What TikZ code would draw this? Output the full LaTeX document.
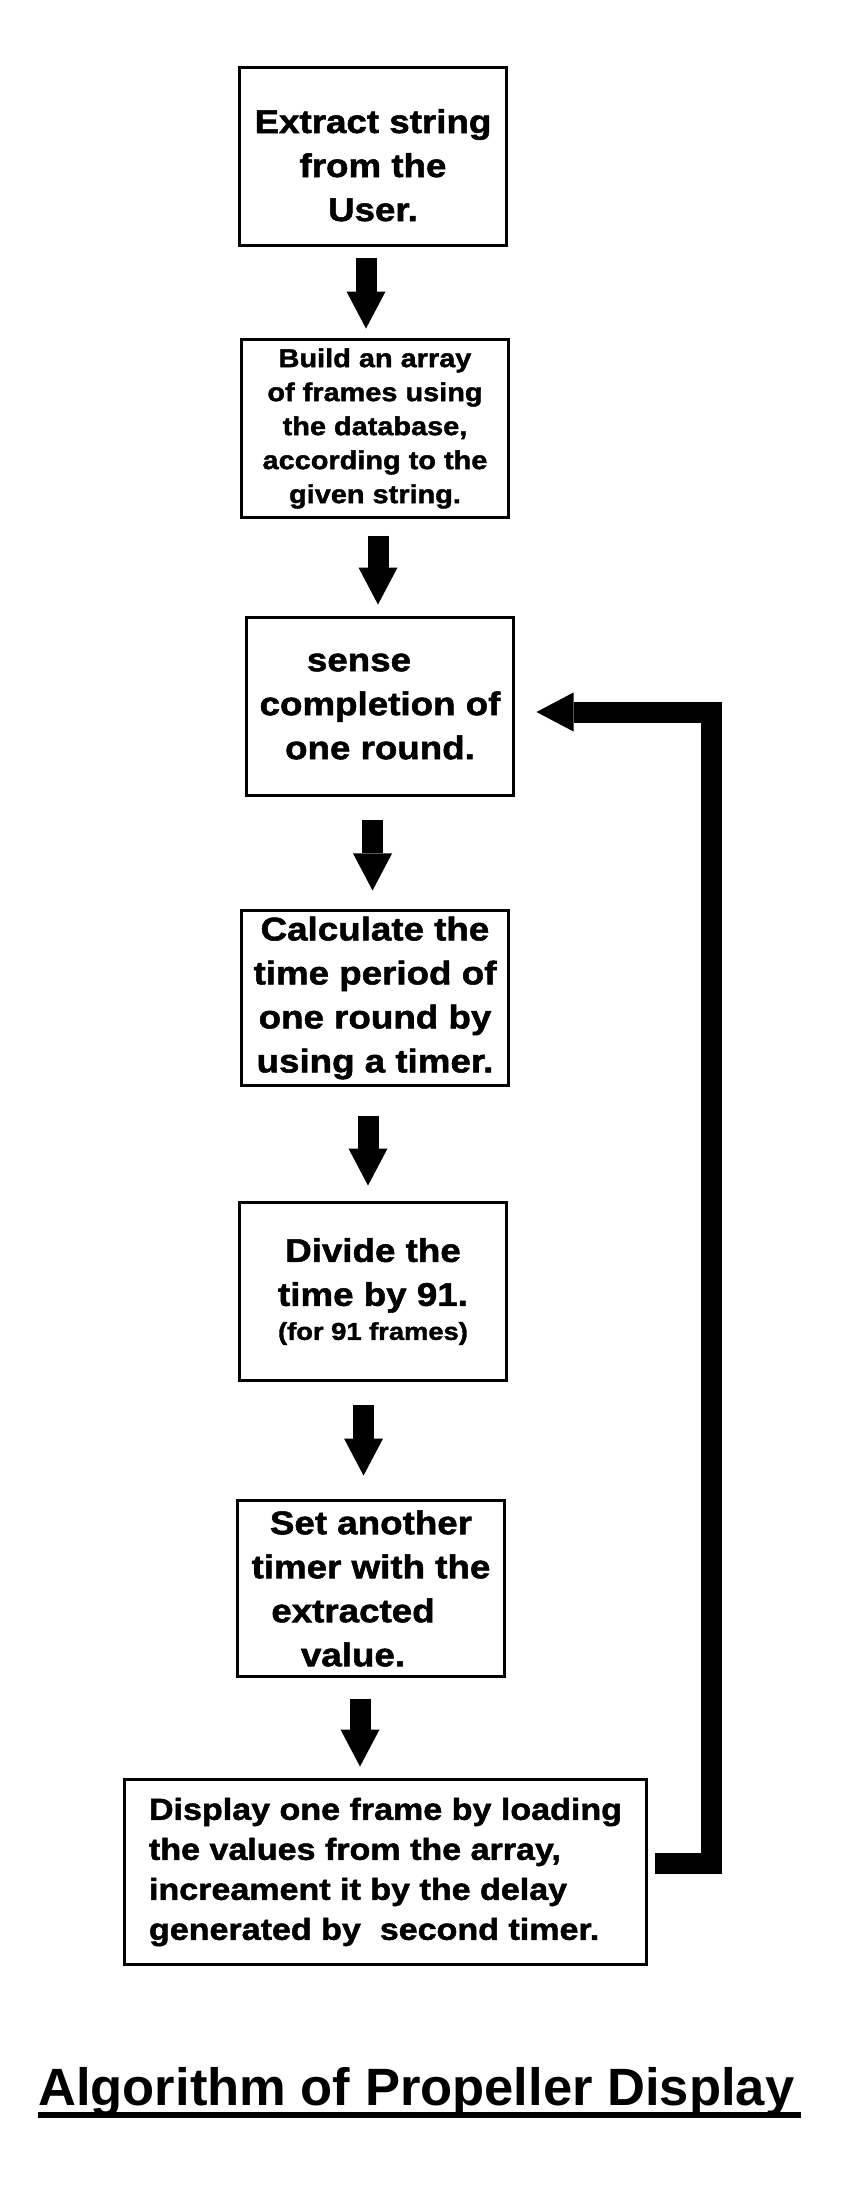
\documentclass[tikz,border=0pt]{standalone}
\usepackage{fontspec}
\newfontfamily\boxfont[FakeStretch=1.12, FakeBold=1.6]{Liberation Sans}
\newfontfamily\titlefont{Liberation Sans}
\usetikzlibrary{arrows.meta, calc}

\tikzset{
  stepbox/.style={draw, line width=2.25pt, inner sep=0pt, align=center,
    minimum width=200.25pt, minimum height=133.5pt,
    font=\boxfont\bfseries\fontsize{24.6}{33}\selectfont},
  flowarrow/.style={line width=15.75pt, line join=miter,
    -{Triangle[length=27.75pt 0 1, width=29.25pt 0 1, line width=0pt]}},
  titletext/.style={inner sep=0pt, font=\titlefont\bfseries\fontsize{39.4}{46}\selectfont},
}

\begin{document}
\begin{tikzpicture}[x=0.75pt, y=-0.75pt]
    \useasboundingbox (0,0) rectangle (840,2204);

    % Steps of the algorithm
    \node[stepbox] (extract) at (373, 156.5) {\rule{0pt}{31pt}Extract string\\from the\\User.};
    \node[stepbox, font=\boxfont\bfseries\fontsize{19.35}{25.5}\selectfont] (build) at (375, 428.5)
        {Build an array\\of frames using\\the database,\\according to the\\given string.};
    \node[stepbox] (sense) at (380, 706.5) {sense\kern31.5pt\\completion of\\one round.};
    \node[stepbox, minimum height=131.25pt] (period) at (375, 998)
        {Calculate the\\time period of\\one round by\\using a timer.};
    \node[stepbox] (divide) at (373, 1291.5)
        {Divide the\\time by 91.\\[-7.5pt]{\fontsize{18.3}{22}\selectfont (for 91 frames)}};
    \node[stepbox, minimum height=132pt] (settimer) at (371, 1588.5)
        {Set another\\timer with the\\extracted\kern27pt\\value.\kern27pt};
    \node[stepbox, align=left, minimum width=391.5pt, minimum height=138.75pt,
        font=\boxfont\bfseries\fontsize{22.8}{30}\selectfont] (display) at (385.5, 1872)
        {Display one frame by loading\\the values from the array,\\increament it by the delay\\generated by\ \ second timer.};

    % Arrows between the steps
    \draw[flowarrow, shorten <=8.6pt, shorten >=7.1pt] ([xshift=-5.25pt]extract.south) -- ([xshift=-5.25pt]extract.south |- build.north);
    \draw[flowarrow, shorten <=12.4pt, shorten >=8.6pt] ([xshift=2.25pt]build.south) -- ([xshift=2.25pt]build.south |- sense.north);
    \draw[flowarrow, shorten <=17.6pt, shorten >=13.9pt] ([xshift=-5.6pt]sense.south) -- ([xshift=-5.6pt]sense.south |- period.north);
    \draw[flowarrow, shorten <=21.4pt, shorten >=11.6pt] ([xshift=-5.25pt]period.south) -- ([xshift=-5.25pt]period.south |- divide.north);
    \draw[flowarrow, shorten <=17.6pt, shorten >=17.6pt] ([xshift=-7.1pt]divide.south) -- ([xshift=-7.1pt]divide.south |- settimer.north);
    \draw[flowarrow, shorten <=15.4pt, shorten >=8.6pt] ([xshift=-8.25pt]settimer.south) -- ([xshift=-8.25pt]settimer.south |- display.north);

    % Loop back to sensing
    \coordinate (loopc) at (711.5, 712);
    \draw[flowarrow] ($(display.east)+(6.5,-8.5)$) -| (loopc) -- ($(sense.east)+(21.5,5.5)$);

    % Title
    \node[titletext, anchor=base west] (title) at (38, 2105) {Algorithm of Propeller Display};
    \draw[line width=4.5pt] ([yshift=-7.5pt]title.base west) -- ([xshift=4.5pt, yshift=-7.5pt]title.base east);
\end{tikzpicture}
\end{document}
